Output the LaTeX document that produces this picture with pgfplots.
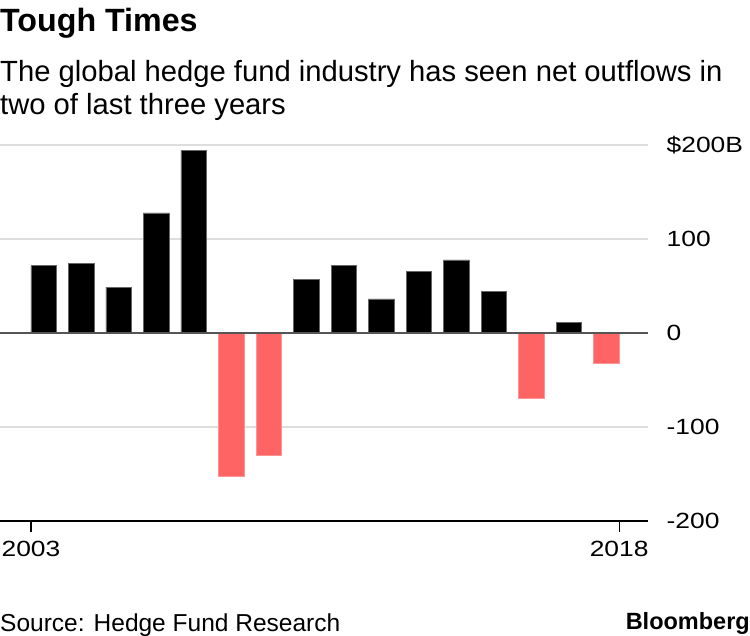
\documentclass[border=0pt]{standalone}
\usepackage{fontspec}
\setmainfont{Liberation Sans}
\newfontfamily\tickfont[FakeStretch=1.2]{Liberation Sans}
\usepackage{pgfplots}
\pgfplotsset{compat=1.18}
\definecolor{negred}{HTML}{FF6464}
\definecolor{negedge}{HTML}{FF9494}
\definecolor{gridgray}{HTML}{DDDDDD}
\definecolor{zerogray}{HTML}{555555}
\begin{document}
\begin{tikzpicture}[x=1pt,y=1pt]
\useasboundingbox (0,0) rectangle (750,636);
\node[anchor=base west, inner sep=0pt] at (0,604.3) {\fontsize{32.2}{32.2}\selectfont\bfseries Tough Times};
\node[anchor=base west, inner sep=0pt] at (0,554.3) {\fontsize{29.2}{29.2}\selectfont The global hedge fund industry has seen net outflows in};
\node[anchor=base west, inner sep=0pt] at (0,521) {\fontsize{29.2}{29.2}\selectfont two of last three years};
\node[anchor=base west, inner sep=0pt] at (0,4.3) {\fontsize{24.5}{24.5}\selectfont Source: Hedge Fund Research};
\node[anchor=base east, inner sep=0pt] at (750,6) {\fontsize{23.5}{23.5}\selectfont\bfseries Bloomberg};
\begin{axis}[
  at={(0pt,115pt)}, anchor=south west, scale only axis,
  width=648pt, height=376.3pt,
  xmin=2001.835, xmax=2019.11, ymin=-200, ymax=200,
  axis x line*=bottom, axis y line*=right,
  x axis line style={black, line width=2pt, -},
  y axis line style={draw=none},
  xtick={2002.66,2018.34}, xticklabels={2003,2018},
  xtick style={black, line width=1.2pt},
  xticklabel style={anchor=north, inner sep=0pt, yshift=-9pt},
  ytick={-200,-100,100,200}, yticklabels={-200,-100,100,\$200B},
  extra y ticks={0}, extra y tick labels={0},
  extra y tick style={grid style={draw=none}},
  ymajorgrids, grid style={draw=gridgray, line width=2pt},
  ytick style={draw=none},
  yticklabel style={anchor=west, inner sep=0pt, xshift=7.5pt},
  tick align=outside, major tick length=11pt,
  tick label style={font=\tickfont\fontsize{22}{22}\selectfont},
  ybar, bar width=0.68, bar shift=0pt,
  clip=false,
]
\addplot[fill=black, draw=black!60, line width=0.6pt] coordinates {
  (2003,71.5) (2004,73.5) (2005,48.5) (2006,127.5) (2007,194)
  (2010,56.5) (2011,71.5) (2012,36) (2013,65) (2014,77.5) (2015,44) (2017,11)
};
\addplot[fill=negred, draw=negedge, line width=0.6pt] coordinates {
  (2008,-153) (2009,-130.5) (2016,-70) (2018,-32.5)
};
\draw[zerogray, line width=1.5pt] (axis cs:2001.835,0) -- (axis cs:2019.11,0);
\end{axis}
\end{tikzpicture}
\end{document}
